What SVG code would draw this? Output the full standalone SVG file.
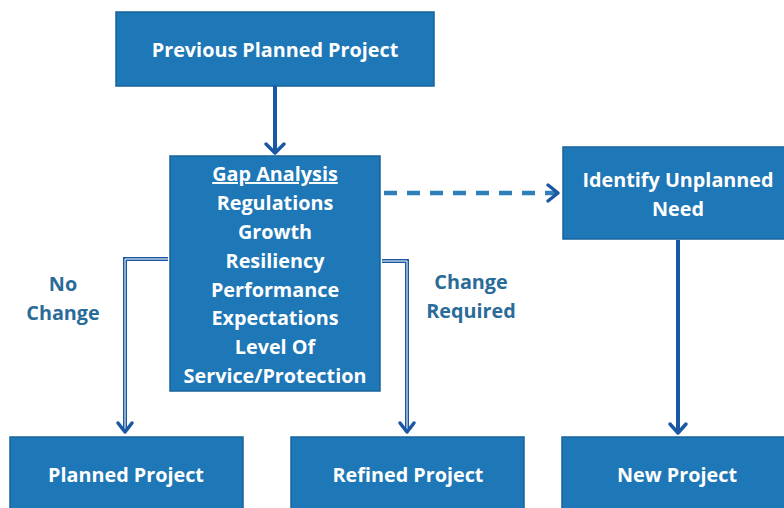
<svg xmlns="http://www.w3.org/2000/svg" width="784" height="508" viewBox="0 0 784 508">
  <style>
    .box { fill: #1e77b6; stroke: #17649c; stroke-width: 1.5; }
    .t { font-family: "Open Sans", "Liberation Sans", sans-serif; font-weight: bold; font-size: 19.8px; fill: #ffffff; text-anchor: middle; }
    .lbl { font-family: "Open Sans", "Liberation Sans", sans-serif; font-weight: bold; font-size: 19.8px; fill: #2a6b98; text-anchor: middle; }
    .wire { fill: none; stroke: #1a58a4; stroke-width: 4; }
    .core { fill: none; stroke: #ffffff; stroke-width: 1; }
    .head { fill: none; stroke: #1a58a4; stroke-width: 3.5; stroke-linecap: round; stroke-linejoin: round; }
    .dash { fill: none; stroke: #2f7fb9; stroke-width: 4.5; stroke-dasharray: 13 10; }
  </style>
  <rect width="784" height="508" fill="#ffffff"/>

  <g id="previous">
    <rect class="box" x="116" y="12" width="318" height="74"/>
    <text class="t" x="275" y="57">Previous Planned Project</text>
  </g>

  <g id="gap">
    <rect class="box" x="170" y="156" width="210" height="235"/>
    <text class="t" x="275" y="181" text-decoration="underline">Gap Analysis</text>
    <text class="t" x="275" y="210">Regulations</text>
    <text class="t" x="275" y="239">Growth</text>
    <text class="t" x="275" y="268">Resiliency</text>
    <text class="t" x="275" y="297">Performance</text>
    <text class="t" x="275" y="325">Expectations</text>
    <text class="t" x="275" y="354">Level Of</text>
    <text class="t" x="275" y="383">Service/Protection</text>
  </g>

  <g id="identify">
    <rect class="box" x="563" y="147" width="224" height="92"/>
    <text class="t" x="678" y="187">Identify Unplanned</text>
    <text class="t" x="678" y="216">Need</text>
  </g>

  <g id="planned">
    <rect class="box" x="10" y="437" width="233" height="75"/>
    <text class="t" x="126" y="482">Planned Project</text>
  </g>

  <g id="refined">
    <rect class="box" x="291" y="437" width="233" height="75"/>
    <text class="t" x="408" y="482">Refined Project</text>
  </g>

  <g id="new">
    <rect class="box" x="562" y="437" width="225" height="75"/>
    <text class="t" x="677" y="482">New Project</text>
  </g>

  <g id="labels">
    <text class="lbl" x="63" y="291">No</text>
    <text class="lbl" x="63" y="320">Change</text>
    <text class="lbl" x="471" y="289">Change</text>
    <text class="lbl" x="471" y="318">Required</text>
  </g>

  <g id="connectors">
    <!-- previous -> gap -->
    <line class="wire" x1="275" y1="86" x2="275" y2="153" stroke-width="3"/>
    <polyline class="head" points="266,144 275,153 284,144"/>

    <!-- gap -> planned (no change), double rule -->
    <polyline class="wire" points="168,259 125,259 125,432"/>
    <polyline class="core" points="168,259 125,259 125,430"/>
    <polyline class="head" points="118,423 125,432 132,423"/>

    <!-- gap -> refined (change required), double rule -->
    <polyline class="wire" points="382,261 407,261 407,432"/>
    <polyline class="core" points="382,261 407,261 407,430"/>
    <polyline class="head" points="400,423 407,432 414,423"/>

    <!-- gap -> identify (dashed) -->
    <line class="dash" x1="384" y1="193" x2="556" y2="193"/>
    <polyline class="head" points="548,185 558,193 548,201" stroke="#2f7fb9" stroke-width="4.5"/>

    <!-- identify -> new -->
    <line class="wire" x1="678" y1="240" x2="678" y2="433"/>
    <polyline class="head" points="670,424 678,433 686,424"/>
  </g>
</svg>
